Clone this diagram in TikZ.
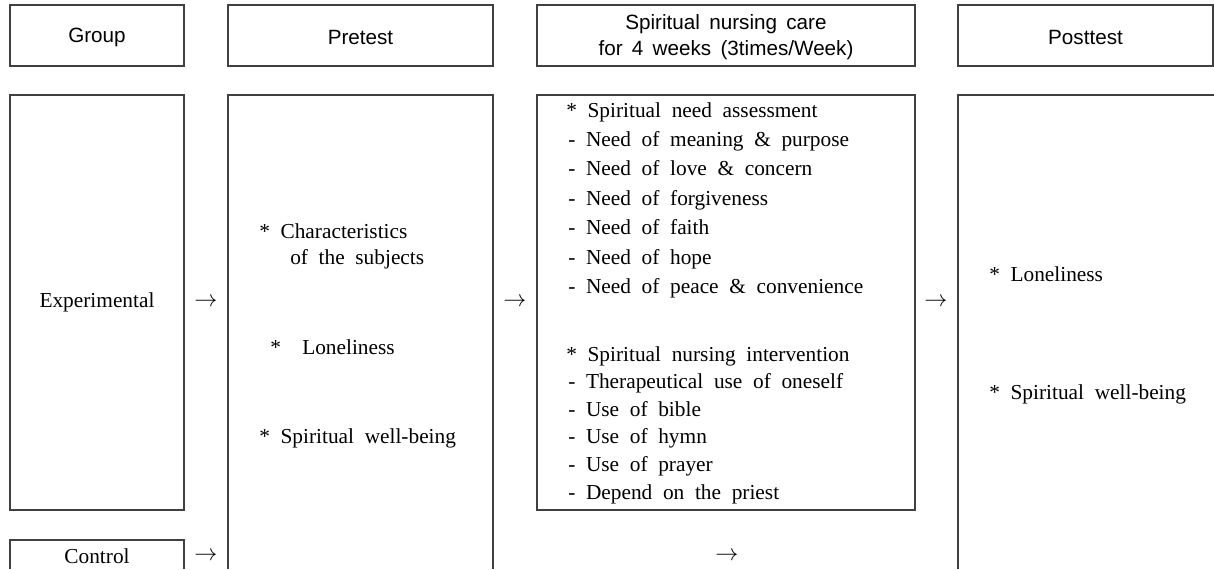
\documentclass[tikz,border=0pt]{standalone}
\usepackage{fontspec}
\setmainfont{Liberation Serif}
\newfontfamily\hdrfont{Liberation Sans}
\usetikzlibrary{fit}
\newcommand\hdrsize{\hdrfont\fontsize{15.5}{19.5}\selectfont\spaceskip 0.45em\relax}
\newcommand\txtsize{\rmfamily\fontsize{16}{22}\selectfont\spaceskip 0.5em\relax}
\tikzset{
  frame/.style={draw=black!75, line width=0.8pt, inner sep=0pt},
  hdrtxt/.style={inner sep=0pt, align=center, font=\hdrsize},
  txt/.style={inner sep=0pt, anchor=base west, font=\txtsize},
  ctxt/.style={inner sep=0pt, font=\txtsize},
  arr/.style={inner sep=0pt, font=\txtsize},
  openline/.style={draw=black!75, line width=0.8pt},
}
\begin{document}
\begin{tikzpicture}[x=0.75pt,y=-0.75pt]
\useasboundingbox (0,0) rectangle (1214,569);
% header row
\node[frame, fit={(10,5)(184,66)}] (grp) {};
\node[frame, fit={(228,5)(493,66)}] (pre) {};
\node[frame, fit={(537,5)(915,66)}] (spc) {};
\node[frame, fit={(958,5)(1213,66)}] (pst) {};
\node[hdrtxt, yshift=-1.5pt] at (grp.center) {Group};
\node[hdrtxt, yshift=-1.5pt] at (pre.center) {Pretest};
\node[hdrtxt, yshift=-1.5pt] at (spc.center) {Spiritual nursing care\\for 4 weeks (3times/Week)};
\node[hdrtxt, yshift=-1.5pt] at (pst.center) {Posttest};
% groups
\node[frame, fit={(10,95)(184,510)}] (exp) {};
\node[ctxt] at (exp.center) {Experimental};
\coordinate (ctlA) at (10,569);
\coordinate (ctlB) at (10,540);
\coordinate (ctlC) at (184,540);
\coordinate (ctlD) at (184,569);
\draw[openline] (ctlA) -- (ctlB) -- (ctlC) -- (ctlD);
\node[ctxt] (ctl) at (97,556) {Control};
% pretest box (open bottom)
\coordinate (prA) at (228,569);
\coordinate (prB) at (228,95);
\coordinate (prC) at (493,95);
\coordinate (prD) at (493,569);
\draw[openline] (prA) -- (prB) -- (prC) -- (prD);
\node[txt] at (259,238) {*\ Characteristics};
\node[txt] at (290,264) {of the subjects};
\node[txt] at (270,354) {*\ \ Loneliness};
\node[txt] at (259,443) {*\ Spiritual well-being};
% spiritual care box
\node[frame, fit={(537,95)(915,510)}] (spb) {};
\foreach \t [count=\k from 0] in {
  {-\ Need of meaning \& purpose},
  {-\ Need of love \& concern},
  {-\ Need of forgiveness},
  {-\ Need of faith},
  {-\ Need of hope},
  {-\ Need of peace \& convenience}}
  \node[txt] at (568,{146.4+29.4*\k}) {\t};
\foreach \t [count=\k from 0] in {
  {-\ Therapeutical use of oneself},
  {-\ Use of bible},
  {-\ Use of hymn},
  {-\ Use of prayer},
  {-\ Depend on the priest}}
  \node[txt] at (568,{388.6+27.6*\k}) {\t};
\node[txt] at (566,117) {*\ Spiritual need assessment};
\node[txt] at (566,361) {*\ Spiritual nursing intervention};
% posttest box (open bottom and right)
\coordinate (psA) at (958,569);
\coordinate (psB) at (958,95);
\coordinate (psC) at (1214,95);
\draw[openline] (psA) -- (psB) -- (psC);
\node[txt] at (989,281) {*\ Loneliness};
\node[txt] at (989,399) {*\ Spiritual well-being};
% arrows
\node[arr] at (206,302) {$\rightarrow$};
\node[arr] at (515,302) {$\rightarrow$};
\node[arr] at (936,302) {$\rightarrow$};
\node[arr] at (206,556) {$\rightarrow$};
\node[arr] at (727,556) {$\rightarrow$};
\end{tikzpicture}
\end{document}
